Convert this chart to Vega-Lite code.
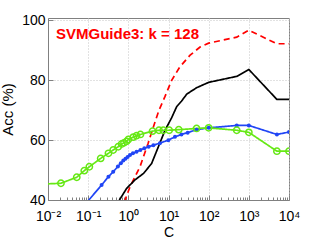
{
  "$schema": "https://vega.github.io/schema/vega-lite/v6.json",
  "width": 241,
  "height": 182,
  "autosize": {"type": "none"},
  "padding": {"left": 48, "top": 18, "right": 30, "bottom": 40},
  "background": "white",
  "config": {
    "font": "Liberation Sans",
    "view": {"stroke": "#808080", "strokeWidth": 1},
    "axis": {"labelFont": "Liberation Sans", "titleFont": "Liberation Sans", "labelColor": "#000", "titleColor": "#000", "domainColor": "#808080", "tickColor": "#808080", "gridColor": "#c4c4c4", "gridDash": [1, 2], "gridWidth": 1, "labelFontSize": 14, "titleFontSize": 15, "titleFontWeight": "normal", "labelOverlap": false, "labelFlush": false, "labelBound": false}
  },
  "title": {"text": "SVMGuide3: k = 128", "anchor": "start", "frame": "group", "orient": "top", "offset": -24, "dx": 8, "dy": 17, "baseline": "alphabetic", "fontSize": 15, "fontWeight": "bold", "color": "#ff0000", "font": "Liberation Sans"},
  "data": {"values": [
    {"s": "red", "C": 0.7, "acc": 36}, {"s": "red", "C": 0.83, "acc": 40}, {"s": "red", "C": 1.1, "acc": 44.4}, {"s": "red", "C": 1.95, "acc": 51.1}, {"s": "red", "C": 3.1, "acc": 58.9}, {"s": "red", "C": 4.2, "acc": 64.4}, {"s": "red", "C": 5.8, "acc": 70}, {"s": "red", "C": 8.2, "acc": 74.6}, {"s": "red", "C": 12, "acc": 80}, {"s": "red", "C": 19, "acc": 84.4}, {"s": "red", "C": 34, "acc": 88.3}, {"s": "red", "C": 61, "acc": 91.1}, {"s": "red", "C": 100, "acc": 92.4}, {"s": "red", "C": 500, "acc": 94.4}, {"s": "red", "C": 1000, "acc": 96.7}, {"s": "red", "C": 5000, "acc": 92.2}, {"s": "red", "C": 10000, "acc": 92.2},
    {"s": "black", "C": 0.5, "acc": 37}, {"s": "black", "C": 0.6, "acc": 40}, {"s": "black", "C": 0.91, "acc": 43.9}, {"s": "black", "C": 1.46, "acc": 46.7}, {"s": "black", "C": 2.4, "acc": 48.9}, {"s": "black", "C": 3.8, "acc": 52.2}, {"s": "black", "C": 5.6, "acc": 57.8}, {"s": "black", "C": 8.2, "acc": 63.3}, {"s": "black", "C": 12, "acc": 67.5}, {"s": "black", "C": 16, "acc": 71.2}, {"s": "black", "C": 21, "acc": 73}, {"s": "black", "C": 28.6, "acc": 75.4}, {"s": "black", "C": 50, "acc": 77.5}, {"s": "black", "C": 100, "acc": 79.3}, {"s": "black", "C": 500, "acc": 81.3}, {"s": "black", "C": 1000, "acc": 83.6}, {"s": "black", "C": 5000, "acc": 73.6}, {"s": "black", "C": 10000, "acc": 73.6},
    {"s": "blue", "C": 0.05, "acc": 35}, {"s": "blue", "C": 0.216, "acc": 45}, {"s": "blue", "C": 0.32, "acc": 47.8}, {"s": "blue", "C": 0.42, "acc": 49.4}, {"s": "blue", "C": 0.55, "acc": 51.2}, {"s": "blue", "C": 0.65, "acc": 52.3}, {"s": "blue", "C": 0.75, "acc": 53.2}, {"s": "blue", "C": 0.85, "acc": 53.8}, {"s": "blue", "C": 0.96, "acc": 54.4}, {"s": "blue", "C": 1.1, "acc": 55}, {"s": "blue", "C": 1.3, "acc": 55.6}, {"s": "blue", "C": 1.6, "acc": 56.1}, {"s": "blue", "C": 2.0, "acc": 56.7}, {"s": "blue", "C": 2.5, "acc": 57.3}, {"s": "blue", "C": 3.2, "acc": 57.8}, {"s": "blue", "C": 4.2, "acc": 58.3}, {"s": "blue", "C": 6.1, "acc": 59}, {"s": "blue", "C": 9.9, "acc": 60}, {"s": "blue", "C": 14.5, "acc": 61.1}, {"s": "blue", "C": 21, "acc": 61.9}, {"s": "blue", "C": 30, "acc": 62.5}, {"s": "blue", "C": 50, "acc": 63.5}, {"s": "blue", "C": 100, "acc": 64.1}, {"s": "blue", "C": 500, "acc": 64.9}, {"s": "blue", "C": 1000, "acc": 64.9}, {"s": "blue", "C": 5000, "acc": 61.9}, {"s": "blue", "C": 10000, "acc": 62.7},
    {"s": "green", "C": 0.005, "acc": 45.2}, {"s": "green", "C": 0.021, "acc": 45.6}, {"s": "green", "C": 0.052, "acc": 47.6}, {"s": "green", "C": 0.08, "acc": 49.8}, {"s": "green", "C": 0.107, "acc": 51.1}, {"s": "green", "C": 0.205, "acc": 53.9}, {"s": "green", "C": 0.32, "acc": 55.6}, {"s": "green", "C": 0.42, "acc": 56.7}, {"s": "green", "C": 0.56, "acc": 57.8}, {"s": "green", "C": 0.68, "acc": 58.7}, {"s": "green", "C": 0.78, "acc": 59.1}, {"s": "green", "C": 0.91, "acc": 59.6}, {"s": "green", "C": 1.0, "acc": 60.2}, {"s": "green", "C": 1.33, "acc": 61.0}, {"s": "green", "C": 1.6, "acc": 61.5}, {"s": "green", "C": 2.0, "acc": 61.9}, {"s": "green", "C": 4.0, "acc": 63.0}, {"s": "green", "C": 5.8, "acc": 63.3}, {"s": "green", "C": 7.4, "acc": 63.3}, {"s": "green", "C": 10.4, "acc": 63.3}, {"s": "green", "C": 18, "acc": 63.5}, {"s": "green", "C": 50, "acc": 63.9}, {"s": "green", "C": 100, "acc": 64.1}, {"s": "green", "C": 500, "acc": 63.3}, {"s": "green", "C": 1000, "acc": 62.6}, {"s": "green", "C": 5000, "acc": 56.3}, {"s": "green", "C": 10000, "acc": 56.3}
  ]},
  "encoding": {
    "x": {"field": "C", "type": "quantitative", "title": "C",
      "scale": {"type": "log", "domain": [0.01, 10000], "nice": false},
      "axis": {"values": [0.01,0.02,0.03,0.04,0.05,0.06,0.07,0.08,0.09,0.1,0.2,0.3,0.4,0.5,0.6,0.7,0.8,0.9,1,2,3,4,5,6,7,8,9,10,20,30,40,50,60,70,80,90,100,200,300,400,500,600,700,800,900,1000,2000,3000,4000,5000,6000,7000,8000,9000,10000],
        "labelExpr": "datum.value==0.01?'10⁻²':datum.value==0.1?'10⁻¹':datum.value==1?'10⁰':datum.value==10?'10¹':datum.value==100?'10²':datum.value==1000?'10³':datum.value==10000?'10⁴':''",
        "grid": true,
        "gridOpacity": {"condition": {"test": "indexof([0.01,0.1,1,10,100,1000,10000], datum.value) >= 0", "value": 1}, "value": 0},
        "tickSize": {"condition": {"test": "indexof([0.01,0.1,1,10,100,1000,10000], datum.value) >= 0", "value": -5}, "value": -3},
        "labelPadding": 14, "titlePadding": 0, "titleFontSize": 14}},
    "y": {"field": "acc", "type": "quantitative", "title": "Acc (%)",
      "scale": {"domain": [40, 100.8], "nice": false, "zero": false},
      "axis": {"values": [40, 60, 80, 100], "grid": true, "tickSize": -5, "labelPadding": 8, "titlePadding": 6}},
    "color": {"field": "s", "type": "nominal", "legend": null,
      "scale": {"domain": ["red", "black", "blue", "green"], "range": ["#ff0000", "#000000", "#2045f5", "#66e815"]}}
  },
  "layer": [
    {"mark": {"type": "line", "clip": true, "strokeWidth": 1.7},
     "encoding": {"strokeDash": {"field": "s", "type": "nominal", "legend": null, "scale": {"domain": ["red", "black", "blue", "green"], "range": [[6, 4], [1, 0], [1, 0], [1, 0]]}}}},
    {"transform": [{"filter": "datum.s == 'blue'"}],
     "mark": {"type": "point", "clip": true, "filled": true, "size": 16, "opacity": 1}},
    {"transform": [{"filter": "datum.s == 'green'"}],
     "mark": {"type": "point", "clip": true, "filled": false, "size": 40, "strokeWidth": 1.5, "opacity": 1}}
  ]
}
